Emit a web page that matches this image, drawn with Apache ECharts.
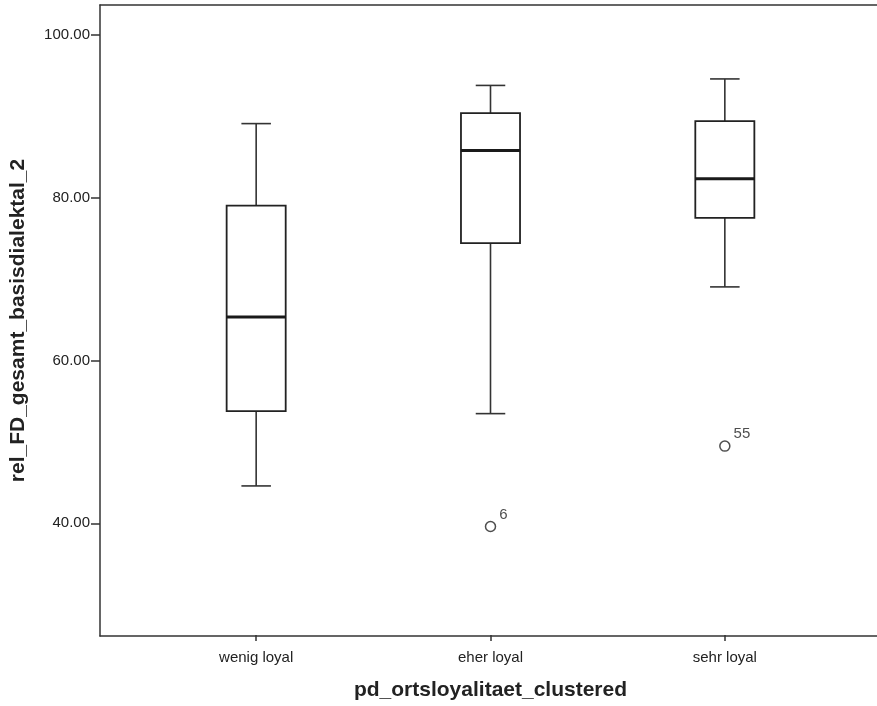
<!DOCTYPE html>
<html>
<head>
<meta charset="utf-8">
<script src="https://cdn.jsdelivr.net/npm/echarts@6/dist/echarts.min.js"></script>
<style>
html,body{margin:0;padding:0;background:#fff;}
#chart{width:877px;height:706px;}
</style>
</head>
<body>
<div id="chart"></div>
<script>
// ---- data ----
const categories = ['wenig loyal', 'eher loyal', 'sehr loyal'];
const whiskerLow  = [44.5, 53.4, 69.0];
const q1          = [53.7, 74.4, 77.5];
const median      = [65.3, 85.8, 82.3];
const q3          = [79.0, 90.4, 89.4];
const whiskerHigh = [89.1, 93.8, 94.6];
const outlierCategory = ['eher loyal', 'sehr loyal'];
const outlierValue    = [39.5, 49.4];
const outlierLabel    = ['6', '55'];
const yTicks = [40, 60, 80, 100];
const yMin = 26.15, yMax = 103.7;

const FONT = '"Liberation Sans", Arial, sans-serif';
const LINE = '#333';
const TEXT = '#222';

const boxData = categories.map((c, i) => [i, whiskerLow[i], q1[i], median[i], q3[i], whiskerHigh[i]]);
const outlierData = outlierCategory.map((c, i) => [categories.indexOf(c), outlierValue[i], outlierLabel[i]]);

const chart = echarts.init(document.getElementById('chart'));
chart.setOption({
  backgroundColor: '#fff',
  animation: false,
  grid: [
    {left: 99, right: 0, top: 5, bottom: 70},
    {left: 139, right: 35, top: 5, bottom: 70}
  ],
  xAxis: [
    {gridIndex: 0, type: 'value', min: 0, max: 1, position: 'bottom',
     axisLine: {show: true, lineStyle: {color: LINE, width: 1.5}},
     axisTick: {show: false}, axisLabel: {show: false}, splitLine: {show: false}},
    {gridIndex: 0, type: 'value', min: 0, max: 1, position: 'top',
     axisLine: {show: true, lineStyle: {color: LINE, width: 1.5}},
     axisTick: {show: false}, axisLabel: {show: false}, splitLine: {show: false}},
    {gridIndex: 1, type: 'category', data: categories, position: 'bottom',
     axisLine: {show: false},
     axisTick: {show: true, alignWithLabel: true, length: 6, lineStyle: {color: LINE, width: 1.5}},
     axisLabel: {margin: 15, fontSize: 15, color: TEXT, fontFamily: FONT},
     splitLine: {show: false},
     name: 'pd_ortsloyalitaet_clustered', nameLocation: 'middle', nameGap: 45,
     nameTextStyle: {fontSize: 21, fontWeight: 'bold', color: TEXT, fontFamily: FONT}}
  ],
  yAxis: [
    {gridIndex: 0, type: 'value', min: yMin, max: yMax,
     axisLine: {show: true, lineStyle: {color: LINE, width: 1.5}},
     axisTick: {show: true, customValues: yTicks, length: 9, lineStyle: {color: LINE, width: 1.5}},
     axisLabel: {customValues: yTicks, margin: 10, fontSize: 15, color: TEXT, fontFamily: FONT,
                 padding: [5, 0, 0, 0],
                 formatter: v => Number(v).toFixed(2)},
     splitLine: {show: false},
     name: 'rel_FD_gesamt_basisdialektal_2', nameLocation: 'middle', nameGap: 71,
     nameTextStyle: {fontSize: 21, fontWeight: 'bold', color: TEXT, fontFamily: FONT}},
    {gridIndex: 1, type: 'value', min: yMin, max: yMax, show: false}
  ],
  series: [
    {
      type: 'custom',
      xAxisIndex: 2, yAxisIndex: 1,
      data: boxData,
      encode: {x: 0, y: [1, 2, 3, 4, 5]},
      renderItem: function (params, api) {
        const x = api.value(0);
        const pLow = api.coord([x, api.value(1)]);
        const pQ1 = api.coord([x, api.value(2)]);
        const pMed = api.coord([x, api.value(3)]);
        const pQ3 = api.coord([x, api.value(4)]);
        const pHigh = api.coord([x, api.value(5)]);
        const band = api.size([1, 0])[0];
        const bw = band * 0.252;
        const half = bw / 2, cap = bw / 4;
        const cx = pMed[0];
        const stroke = {stroke: LINE, lineWidth: 1.6, fill: null};
        return {
          type: 'group',
          children: [
            {type: 'line', shape: {x1: cx, y1: pHigh[1], x2: cx, y2: pQ3[1]}, style: stroke},
            {type: 'line', shape: {x1: cx, y1: pQ1[1], x2: cx, y2: pLow[1]}, style: stroke},
            {type: 'line', shape: {x1: cx - cap, y1: pHigh[1], x2: cx + cap, y2: pHigh[1]}, style: stroke},
            {type: 'line', shape: {x1: cx - cap, y1: pLow[1], x2: cx + cap, y2: pLow[1]}, style: stroke},
            {type: 'rect', shape: {x: cx - half, y: pQ3[1], width: bw, height: pQ1[1] - pQ3[1]},
             style: {stroke: '#222', lineWidth: 1.8, fill: '#fff'}},
            {type: 'line', shape: {x1: cx - half, y1: pMed[1], x2: cx + half, y2: pMed[1]},
             style: {stroke: '#1a1a1a', lineWidth: 3}}
          ]
        };
      }
    },
    {
      type: 'scatter',
      xAxisIndex: 2, yAxisIndex: 1,
      data: outlierData,
      symbol: 'circle',
      symbolSize: 10,
      itemStyle: {color: '#fff', borderColor: '#222', borderWidth: 1.5},
      label: {show: true, position: 'right', distance: 3, offset: [0, -12],
              formatter: p => p.value[2], fontSize: 15, color: TEXT, fontFamily: FONT},
      emphasis: {disabled: true}
    }
  ]
});
</script>
</body>
</html>
